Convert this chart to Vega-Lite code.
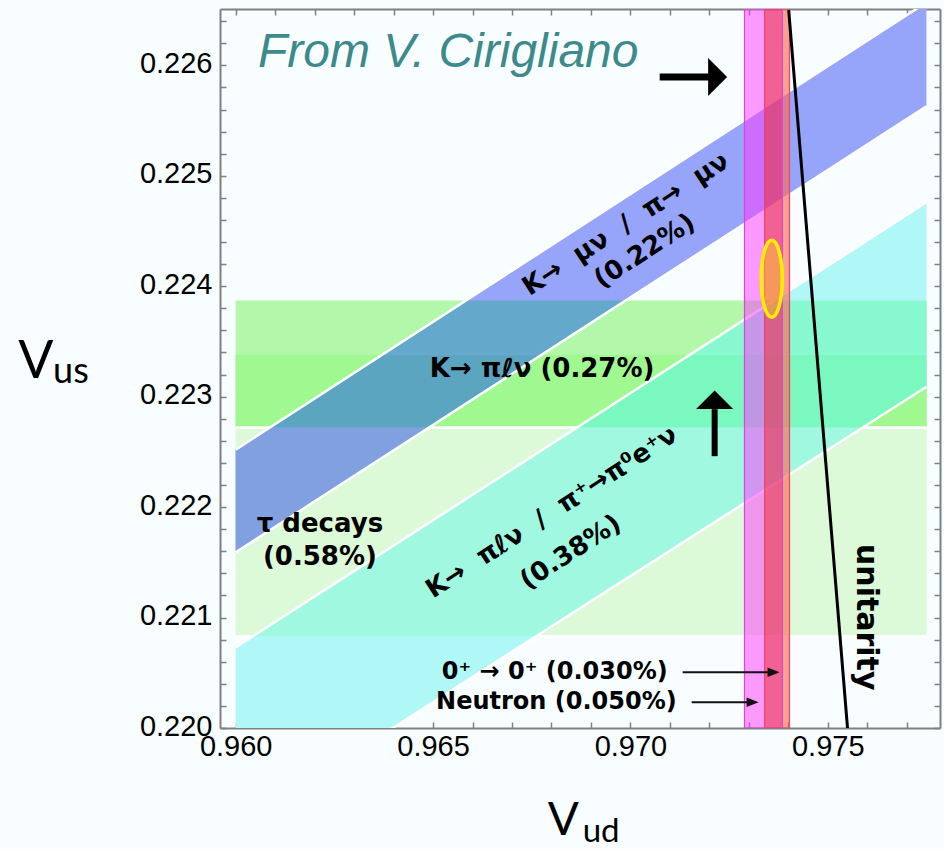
{
  "$schema": "https://vega.github.io/schema/vega-lite/v6.json",
  "width": 720,
  "height": 719,
  "autosize": {"type": "none"},
  "padding": {"left": 220, "top": 9, "right": 4, "bottom": 121},
  "background": "#f8feff",
  "config": {
    "view": {"stroke": null},
    "axis": {
      "domainColor": "#808080", "domainWidth": 2, "tickColor": "#808080", "tickWidth": 1.5,
      "tickSize": -6, "grid": false, "labelFont": "Liberation Sans", "labelFontSize": 29,
      "labelColor": "#000000", "labelOverlap": false, "labelFlush": false, "labelBound": false,
      "title": null, "zindex": 1
    }
  },
  "datasets": {
    "strips": [
      {"region": "tau", "x": 0.96, "x2": 0.9775, "y": 0.22083, "y2": 0.22338},
      {"region": "kpl", "x": 0.96, "x2": 0.9775, "y": 0.22272, "y2": 0.22387},
      {"region": "kpl_tau", "x": 0.96, "x2": 0.9775, "y": 0.22272, "y2": 0.22338}
    ],
    "hlines": [
      {"x": 0.96, "x2": 0.9775, "y": 0.22272},
      {"x": 0.96, "x2": 0.9775, "y": 0.22083}
    ],
    "diag": [
      {"region": "blue", "x": 0.96, "lo": 0.22159, "hi": 0.22252},
      {"region": "blue", "x": 0.9775, "lo": 0.22563, "hi": 0.22657},
      {"region": "cyan", "x": 0.96, "lo": 0.21909, "hi": 0.22073},
      {"region": "cyan", "x": 0.9775, "lo": 0.22309, "hi": 0.22476}
    ],
    "overlaps": [
      {"region": "blue_tau", "y": 0.22159, "x": 0.96, "x2": 0.96},
      {"region": "blue_tau", "y": 0.22252, "x": 0.96, "x2": 0.964041},
      {"region": "blue_tau", "y": 0.22272, "x": 0.96087, "x2": 0.964908},
      {"region": "blue_kpl_tau", "y": 0.22272, "x": 0.96087, "x2": 0.964908},
      {"region": "blue_kpl_tau", "y": 0.22338, "x": 0.963717, "x2": 0.967767},
      {"region": "blue_kpl", "y": 0.22338, "x": 0.963717, "x2": 0.967767},
      {"region": "blue_kpl", "y": 0.22387, "x": 0.965831, "x2": 0.96989},
      {"region": "cyan_tau", "y": 0.22083, "x": 0.960423, "x2": 0.967619},
      {"region": "cyan_tau", "y": 0.22272, "x": 0.968643, "x2": 0.9759},
      {"region": "cyan_kpl_tau", "y": 0.22272, "x": 0.968643, "x2": 0.9759},
      {"region": "cyan_kpl_tau", "y": 0.22309, "x": 0.970252, "x2": 0.9775},
      {"region": "cyan_kpl_tau", "y": 0.22338, "x": 0.971513, "x2": 0.9775},
      {"region": "cyan_kpl", "y": 0.22338, "x": 0.971513, "x2": 0.9775},
      {"region": "cyan_kpl", "y": 0.22387, "x": 0.973644, "x2": 0.9775}
    ],
    "edges": [
      {"edge": "blue_lo", "x": 0.96, "y": 0.22159}, {"edge": "blue_lo", "x": 0.9775, "y": 0.22563},
      {"edge": "blue_hi", "x": 0.96, "y": 0.22252}, {"edge": "blue_hi", "x": 0.9775, "y": 0.22657},
      {"edge": "cyan_lo", "x": 0.96, "y": 0.21909}, {"edge": "cyan_lo", "x": 0.9775, "y": 0.22309},
      {"edge": "cyan_hi", "x": 0.96, "y": 0.22073}, {"edge": "cyan_hi", "x": 0.9775, "y": 0.22476}
    ],
    "neutron_only": [{"x": 0.97289, "x2": 0.9734, "y": 0.22, "y2": 0.22651}],
    "both": [{"x": 0.9734, "x2": 0.97385, "y": 0.22, "y2": 0.22651}],
    "super_only": [{"x": 0.97385, "x2": 0.97403, "y": 0.22, "y2": 0.22651}],
    "neutron": [{"x": 0.97289, "x2": 0.97385, "y": 0.22, "y2": 0.22651}],
    "superallowed": [{"x": 0.9734, "x2": 0.97403, "y": 0.22, "y2": 0.22651}],
    "ellipse": [{"x": 0.97358, "y": 0.224067}],
    "unitarity": [{"x": 0.9755, "y": 0.22}, {"x": 0.97401, "y": 0.2265}],
    "hshaft": [{"x": 0.970742, "x2": 0.972008, "y": 0.225894}],
    "hhead": [{"x": 0.97221, "y": 0.225894}],
    "vshaft": [{"x": 0.972134, "y": 0.222461, "y2": 0.222887}],
    "vhead": [{"x": 0.972134, "y": 0.222973}],
    "thin": [
      {"x": 0.971324, "x2": 0.973627, "y": 0.220505},
      {"x": 0.971552, "x2": 0.973096, "y": 0.220233}
    ],
    "thinhead": [
      {"x": 0.973627, "y": 0.220505},
      {"x": 0.973096, "y": 0.220233}
    ],
    "cite": [{"x": 0.960565, "y": 0.225989, "t": "From V. Cirigliano"}],
    "kpl_label": [{"x": 0.964919, "y": 0.223177, "t": "K→ πℓν (0.27%)"}],
    "tau_label": [
      {"x": 0.962134, "y": 0.221773, "t": "τ decays"},
      {"x": 0.962134, "y": 0.221474, "t": "(0.58%)"}
    ],
    "blue_label": [
      {"x": 0.969881, "y": 0.224562, "t": "K→\u00a0 μν\u00a0 /\u00a0 π→\u00a0 μν"},
      {"x": 0.970362, "y": 0.224318, "t": "(0.22%)"}
    ],
    "cyan_label": [
      {"x": 0.968007, "y": 0.221954, "t": "K→\u00a0 πℓν\u00a0 /\u00a0 π⁺→π⁰e⁺ν"},
      {"x": 0.968488, "y": 0.221592, "t": "(0.38%)"}
    ],
    "unit_label": [{"x": 0.975957, "y": 0.221003, "t": "unitarity"}],
    "vud_label": [
      {"x": 0.970944, "y": 0.220441, "t": "0⁺ → 0⁺ (0.030%)"},
      {"x": 0.971172, "y": 0.22017, "t": "Neutron (0.050%)"}
    ],
    "bigV_us": [{"x": 0.954489, "y": 0.223168, "t": "V"}],
    "sub_us": [{"x": 0.955375, "y": 0.223123, "t": "us"}],
    "bigV_ud": [{"x": 0.967906, "y": 0.219028, "t": "V"}],
    "sub_ud": [{"x": 0.968792, "y": 0.218965, "t": "ud"}],
    "frame": [{"x": 0.97, "y": 0.223}]
  },
  "layer": [
    {
      "data": {"name": "strips"},
      "mark": {"type": "rect", "clip": true},
      "encoding": {
        "x": {"field": "x", "type": "quantitative",
              "scale": {"domain": [0.959603, 0.977843], "nice": false, "zero": false},
              "axis": {"orient": "bottom", "labelPadding": 10,
                       "values": [0.96,0.961,0.962,0.963,0.964,0.965,0.966,0.967,0.968,0.969,0.97,0.971,0.972,0.973,0.974,0.975,0.976,0.977],
                       "labelExpr": "round(datum.value*1000) % 5 === 0 ? format(datum.value, '.3f') : ''"}},
        "x2": {"field": "x2"},
        "y": {"field": "y", "type": "quantitative",
              "scale": {"domain": [0.22, 0.22651], "nice": false, "zero": false},
              "axis": {"orient": "left", "labelPadding": 14, "labelOffset": -2,
                       "values": [0.22,0.2202,0.2204,0.2206,0.2208,0.221,0.2212,0.2214,0.2216,0.2218,0.222,0.2222,0.2224,0.2226,0.2228,0.223,0.2232,0.2234,0.2236,0.2238,0.224,0.2242,0.2244,0.2246,0.2248,0.225,0.2252,0.2254,0.2256,0.2258,0.226,0.2262,0.2264],
                       "labelExpr": "abs(datum.value*1000 - round(datum.value*1000)) < 0.01 ? format(datum.value, '.3f') : ''"}},
        "y2": {"field": "y2"},
        "color": {"field": "region", "type": "nominal", "legend": null,
                  "scale": {"domain": ["tau","kpl","kpl_tau","blue","blue_tau","blue_kpl_tau","blue_kpl","cyan","cyan_tau","cyan_kpl_tau","cyan_kpl"],
                            "range": ["#dcf9d8","#b3f8aa","#a0f890","#96a4fa","#80a0e0","#5ca5c0","#64a8cc","#b0f8f8","#a0f8e0","#7af8c0","#88f8d0"]}}
      }
    },
    {
      "data": {"name": "hlines"},
      "mark": {"type": "rule", "color": "#ffffff", "strokeWidth": 2.5, "clip": true},
      "encoding": {
        "x": {"field": "x", "type": "quantitative", "axis": null},
        "x2": {"field": "x2"},
        "y": {"field": "y", "type": "quantitative", "axis": null}
      }
    },
    {
      "data": {"name": "diag"},
      "mark": {"type": "area", "orient": "vertical", "clip": true},
      "encoding": {
        "x": {"field": "x", "type": "quantitative", "axis": null},
        "y": {"field": "lo", "type": "quantitative", "axis": null},
        "y2": {"field": "hi"},
        "color": {"field": "region", "type": "nominal", "legend": null}
      }
    },
    {
      "data": {"name": "overlaps"},
      "mark": {"type": "area", "orient": "horizontal", "clip": true},
      "encoding": {
        "y": {"field": "y", "type": "quantitative", "axis": null},
        "x": {"field": "x", "type": "quantitative", "axis": null},
        "x2": {"field": "x2"},
        "color": {"field": "region", "type": "nominal", "legend": null}
      }
    },
    {
      "data": {"name": "edges"},
      "mark": {"type": "line", "color": "#ffffff", "strokeWidth": 2.5, "clip": true},
      "encoding": {
        "x": {"field": "x", "type": "quantitative", "axis": null},
        "y": {"field": "y", "type": "quantitative", "axis": null},
        "detail": {"field": "edge"}
      }
    },
    {
      "data": {"name": "neutron_only"},
      "mark": {"type": "rect", "color": "#ff3cff", "opacity": 0.52, "clip": true},
      "encoding": {
        "x": {"field": "x", "type": "quantitative", "axis": null},
        "x2": {"field": "x2"},
        "y": {"field": "y", "type": "quantitative", "axis": null},
        "y2": {"field": "y2"}
      }
    },
    {
      "data": {"name": "both"},
      "mark": {"type": "rect", "color": "#ee3170", "opacity": 0.77, "clip": true},
      "encoding": {
        "x": {"field": "x", "type": "quantitative", "axis": null},
        "x2": {"field": "x2"},
        "y": {"field": "y", "type": "quantitative", "axis": null},
        "y2": {"field": "y2"}
      }
    },
    {
      "data": {"name": "super_only"},
      "mark": {"type": "rect", "color": "#f86e50", "opacity": 0.65, "clip": true},
      "encoding": {
        "x": {"field": "x", "type": "quantitative", "axis": null},
        "x2": {"field": "x2"},
        "y": {"field": "y", "type": "quantitative", "axis": null},
        "y2": {"field": "y2"}
      }
    },
    {
      "data": {"name": "neutron"},
      "mark": {"type": "rect", "filled": false, "stroke": "#e040e0", "strokeWidth": 1.2, "clip": true},
      "encoding": {
        "x": {"field": "x", "type": "quantitative", "axis": null},
        "x2": {"field": "x2"},
        "y": {"field": "y", "type": "quantitative", "axis": null},
        "y2": {"field": "y2"}
      }
    },
    {
      "data": {"name": "superallowed"},
      "mark": {"type": "rect", "filled": false, "stroke": "#f04070", "strokeWidth": 1.2, "clip": true},
      "encoding": {
        "x": {"field": "x", "type": "quantitative", "axis": null},
        "x2": {"field": "x2"},
        "y": {"field": "y", "type": "quantitative", "axis": null},
        "y2": {"field": "y2"}
      }
    },
    {
      "data": {"name": "ellipse"},
      "mark": {"type": "point", "filled": false, "shape": "M -0.273 0 A 0.273 1 0 1 0 0.273 0 A 0.273 1 0 1 0 -0.273 0 Z",
               "size": 5929, "fill": "#ffff00", "fillOpacity": 0.35, "stroke": "#ffee00", "strokeWidth": 3.5, "strokeOpacity": 1, "opacity": 1},
      "encoding": {
        "x": {"field": "x", "type": "quantitative", "axis": null},
        "y": {"field": "y", "type": "quantitative", "axis": null}
      }
    },
    {
      "data": {"name": "unitarity"},
      "mark": {"type": "line", "color": "#000000", "strokeWidth": 3, "clip": true},
      "encoding": {
        "x": {"field": "x", "type": "quantitative", "axis": null},
        "y": {"field": "y", "type": "quantitative", "axis": null}
      }
    },
    {
      "data": {"name": "hshaft"},
      "mark": {"type": "rule", "color": "#000000", "strokeWidth": 7},
      "encoding": {
        "x": {"field": "x", "type": "quantitative", "axis": null},
        "x2": {"field": "x2"},
        "y": {"field": "y", "type": "quantitative", "axis": null}
      }
    },
    {
      "data": {"name": "hhead"},
      "mark": {"type": "point", "filled": true, "shape": "M -0.5 -1 L 0.5 0 L -0.5 1 Z", "size": 1444, "color": "#000000", "opacity": 1},
      "encoding": {
        "x": {"field": "x", "type": "quantitative", "axis": null},
        "y": {"field": "y", "type": "quantitative", "axis": null}
      }
    },
    {
      "data": {"name": "vshaft"},
      "mark": {"type": "rule", "color": "#000000", "strokeWidth": 6},
      "encoding": {
        "x": {"field": "x", "type": "quantitative", "axis": null},
        "y": {"field": "y", "type": "quantitative", "axis": null},
        "y2": {"field": "y2"}
      }
    },
    {
      "data": {"name": "vhead"},
      "mark": {"type": "point", "filled": true, "shape": "M -1 0.5 L 0 -0.5 L 1 0.5 Z", "size": 1369, "color": "#000000", "opacity": 1},
      "encoding": {
        "x": {"field": "x", "type": "quantitative", "axis": null},
        "y": {"field": "y", "type": "quantitative", "axis": null}
      }
    },
    {
      "data": {"name": "thin"},
      "mark": {"type": "rule", "color": "#111111", "strokeWidth": 1.8},
      "encoding": {
        "x": {"field": "x", "type": "quantitative", "axis": null},
        "x2": {"field": "x2"},
        "y": {"field": "y", "type": "quantitative", "axis": null}
      }
    },
    {
      "data": {"name": "thinhead"},
      "mark": {"type": "point", "filled": true, "shape": "M -1 -0.8 L 1 0 L -1 0.8 Z", "size": 144, "color": "#111111", "opacity": 1},
      "encoding": {
        "x": {"field": "x", "type": "quantitative", "axis": null},
        "y": {"field": "y", "type": "quantitative", "axis": null}
      }
    },
    {
      "data": {"name": "cite"},
      "mark": {"type": "text", "font": "Liberation Sans", "fontStyle": "italic", "fontSize": 48, "color": "#3d8a8c", "align": "left", "baseline": "alphabetic"},
      "encoding": {
        "x": {"field": "x", "type": "quantitative", "axis": null},
        "y": {"field": "y", "type": "quantitative", "axis": null},
        "text": {"field": "t"}
      }
    },
    {
      "data": {"name": "kpl_label"},
      "mark": {"type": "text", "font": "DejaVu Sans", "fontWeight": "bold", "fontSize": 26, "color": "#000000", "align": "left", "baseline": "alphabetic"},
      "encoding": {
        "x": {"field": "x", "type": "quantitative", "axis": null},
        "y": {"field": "y", "type": "quantitative", "axis": null},
        "text": {"field": "t"}
      }
    },
    {
      "data": {"name": "tau_label"},
      "mark": {"type": "text", "font": "DejaVu Sans", "fontWeight": "bold", "fontSize": 26, "color": "#000000", "align": "center", "baseline": "alphabetic"},
      "encoding": {
        "x": {"field": "x", "type": "quantitative", "axis": null},
        "y": {"field": "y", "type": "quantitative", "axis": null},
        "text": {"field": "t"}
      }
    },
    {
      "data": {"name": "blue_label"},
      "mark": {"type": "text", "font": "DejaVu Sans", "fontWeight": "bold", "fontSize": 26, "color": "#000000", "align": "center", "baseline": "middle", "angle": 327},
      "encoding": {
        "x": {"field": "x", "type": "quantitative", "axis": null},
        "y": {"field": "y", "type": "quantitative", "axis": null},
        "text": {"field": "t"}
      }
    },
    {
      "data": {"name": "cyan_label"},
      "mark": {"type": "text", "font": "DejaVu Sans", "fontWeight": "bold", "fontSize": 26, "color": "#000000", "align": "center", "baseline": "middle", "angle": 327},
      "encoding": {
        "x": {"field": "x", "type": "quantitative", "axis": null},
        "y": {"field": "y", "type": "quantitative", "axis": null},
        "text": {"field": "t"}
      }
    },
    {
      "data": {"name": "unit_label"},
      "mark": {"type": "text", "font": "DejaVu Sans", "fontWeight": "bold", "fontSize": 30, "color": "#000000", "align": "center", "baseline": "middle", "angle": 90},
      "encoding": {
        "x": {"field": "x", "type": "quantitative", "axis": null},
        "y": {"field": "y", "type": "quantitative", "axis": null},
        "text": {"field": "t"}
      }
    },
    {
      "data": {"name": "vud_label"},
      "mark": {"type": "text", "font": "DejaVu Sans", "fontWeight": "bold", "fontSize": 24, "color": "#000000", "align": "right", "baseline": "alphabetic"},
      "encoding": {
        "x": {"field": "x", "type": "quantitative", "axis": null},
        "y": {"field": "y", "type": "quantitative", "axis": null},
        "text": {"field": "t"}
      }
    },
    {
      "data": {"name": "bigV_us"},
      "mark": {"type": "text", "font": "Lato", "fontSize": 52, "color": "#000000", "align": "left", "baseline": "alphabetic"},
      "encoding": {
        "x": {"field": "x", "type": "quantitative", "axis": null},
        "y": {"field": "y", "type": "quantitative", "axis": null},
        "text": {"field": "t"}
      }
    },
    {
      "data": {"name": "sub_us"},
      "mark": {"type": "text", "font": "Lato", "fontSize": 36, "color": "#000000", "align": "left", "baseline": "alphabetic"},
      "encoding": {
        "x": {"field": "x", "type": "quantitative", "axis": null},
        "y": {"field": "y", "type": "quantitative", "axis": null},
        "text": {"field": "t"}
      }
    },
    {
      "data": {"name": "bigV_ud"},
      "mark": {"type": "text", "font": "Lato", "fontSize": 46, "color": "#000000", "align": "left", "baseline": "alphabetic"},
      "encoding": {
        "x": {"field": "x", "type": "quantitative", "axis": null},
        "y": {"field": "y", "type": "quantitative", "axis": null},
        "text": {"field": "t"}
      }
    },
    {
      "data": {"name": "sub_ud"},
      "mark": {"type": "text", "font": "Lato", "fontSize": 33, "color": "#000000", "align": "left", "baseline": "alphabetic"},
      "encoding": {
        "x": {"field": "x", "type": "quantitative", "axis": null},
        "y": {"field": "y", "type": "quantitative", "axis": null},
        "text": {"field": "t"}
      }
    },
    {
      "data": {"name": "frame"},
      "mark": {"type": "point", "opacity": 0},
      "encoding": {
        "x": {"field": "x", "type": "quantitative",
              "axis": {"orient": "top", "labels": false,
                       "values": [0.96,0.961,0.962,0.963,0.964,0.965,0.966,0.967,0.968,0.969,0.97,0.971,0.972,0.973,0.974,0.975,0.976,0.977]}},
        "y": {"field": "y", "type": "quantitative",
              "axis": {"orient": "right", "labels": false,
                       "values": [0.22,0.2202,0.2204,0.2206,0.2208,0.221,0.2212,0.2214,0.2216,0.2218,0.222,0.2222,0.2224,0.2226,0.2228,0.223,0.2232,0.2234,0.2236,0.2238,0.224,0.2242,0.2244,0.2246,0.2248,0.225,0.2252,0.2254,0.2256,0.2258,0.226,0.2262,0.2264]}}
      }
    }
  ],
  "resolve": {"axis": {"x": "independent", "y": "independent"}}
}
